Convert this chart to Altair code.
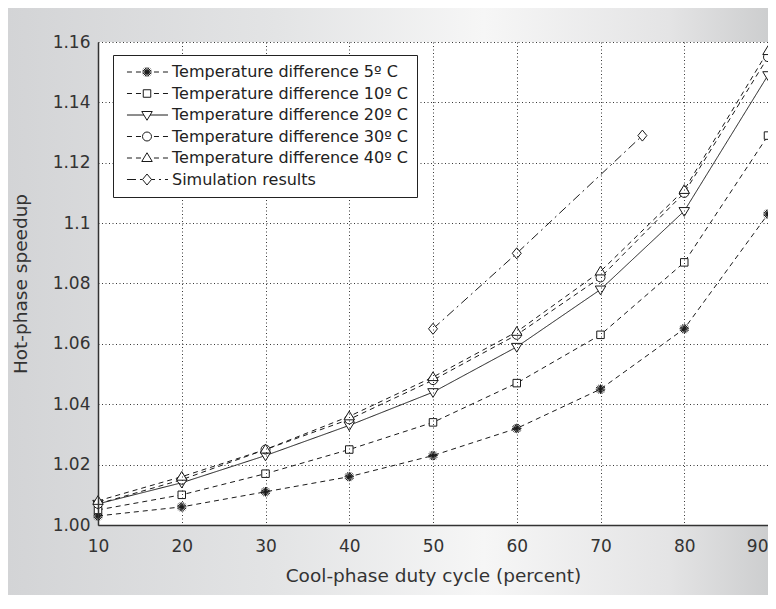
import altair as alt
import pandas as pd

# ---------------- data ----------------
series = [
    "Temperature difference 5º C",
    "Temperature difference 10º C",
    "Temperature difference 20º C",
    "Temperature difference 30º C",
    "Temperature difference 40º C",
    "Simulation results",
]
duty = [10, 20, 30, 40, 50, 60, 70, 80, 90]
t5 = [1.003, 1.006, 1.011, 1.016, 1.023, 1.032, 1.045, 1.065, 1.103]
t10 = [1.005, 1.010, 1.017, 1.025, 1.034, 1.047, 1.063, 1.087, 1.129]
t20 = [1.007, 1.014, 1.023, 1.033, 1.044, 1.059, 1.078, 1.104, 1.149]
t30 = [1.007, 1.015, 1.025, 1.035, 1.048, 1.063, 1.082, 1.110, 1.155]
t40 = [1.008, 1.016, 1.025, 1.036, 1.049, 1.064, 1.084, 1.111, 1.157]
sim_duty = [50, 60, 75]
sim = [1.065, 1.090, 1.129]
y_ticks = [1.00, 1.02, 1.04, 1.06, 1.08, 1.10, 1.12, 1.14, 1.16]

rows = []
for name, xs, ys in zip(series, [duty, duty, duty, duty, duty, sim_duty],
                        [t5, t10, t20, t30, t40, sim]):
    for xv, yv in zip(xs, ys):
        rows.append({"duty": xv, "speedup": yv, "series": name, "line_series": name})
df = pd.DataFrame(rows)

# ---------------- styling ----------------
W, H = 670, 483
PAD_L, PAD_T, PAD_R, PAD_B = 90, 34, 0, 70
FONT = "DejaVu Sans"
INK = "#1a1a1a"
LEG_X, LEG_Y = 15, 13

# plot markers (custom paths, size 100 -> 5 px per unit)
marker_paths = [
    "M-0.95,0L0.95,0M0,-0.95L0,0.95M-0.67,-0.67L0.67,0.67M-0.67,0.67L0.67,-0.67"
    "M-0.88,-0.36L0.88,0.36M-0.88,0.36L0.88,-0.36M-0.36,-0.88L0.36,0.88M0.36,-0.88L-0.36,0.88",
    "M-0.75,-0.75L0.75,-0.75L0.75,0.75L-0.75,0.75Z",
    "M-1.05,-0.7L1.05,-0.7L0,1.05Z",
    "M-0.9,0A0.9,0.9,0,1,0,0.9,0A0.9,0.9,0,1,0,-0.9,0Z",
    "M-1.05,0.7L1.05,0.7L0,-1.05Z",
    "M0,-1.1L0.9,0L0,1.1L-0.9,0Z",
]
dash_styles = [[5, 4], [5, 4], [1, 0], [5, 4], [5, 4], [9, 4, 2, 4]]

axis_style = dict(
    labelFont=FONT, labelFontSize=17, labelColor="#333",
    titleFont=FONT, titleFontSize=18.5, titleFontWeight="normal", titleColor="#333",
    ticks=False, tickSize=0,
    domainColor="#333", domainWidth=1.5,
    grid=True, gridColor="#222", gridDash=[1, 2.5], gridWidth=1, gridOpacity=0.9,
    zindex=1,
)

x_enc = alt.X(
    "duty:Q",
    scale=alt.Scale(domain=[10, 90], nice=False, zero=False),
    axis=alt.Axis(
        values=duty, title="Cool-phase duty cycle (percent)", labelFlush=False,
        labelAlign={"expr": "datum.value == 90 ? 'right' : 'center'"},
        labelPadding=13, titlePadding=12, **axis_style,
    ),
)
y_enc = alt.Y(
    "speedup:Q",
    scale=alt.Scale(domain=[1.0, 1.16], nice=False, zero=False),
    axis=alt.Axis(
        values=y_ticks, title="Hot-phase speedup",
        labelExpr="datum.value == 1 ? '1.00' : format(datum.value, '.3~g')",
        labelPadding=8, titlePadding=22, **axis_style,
    ),
)

bg = alt.Chart(alt.Data(values=[{}])).mark_rect(
    fill={
        "gradient": "linear", "x1": 0, "x2": 1, "y1": 0, "y2": 0,
        "stops": [
            {"offset": 0, "color": "#d3d4d6"},
            {"offset": 0.35, "color": "#e3e4e5"},
            {"offset": 0.62, "color": "#f6f6f6"},
            {"offset": 0.86, "color": "#e4e4e5"},
            {"offset": 1, "color": "#cbcccd"},
        ],
    },
    strokeOpacity=0,
).encode(
    x=alt.value(-PAD_L), x2=alt.value(W + 8),
    y=alt.value(-PAD_T), y2=alt.value(H + PAD_B),
)

plot_bg = alt.Chart(alt.Data(values=[{}])).mark_rect(
    fill="white", strokeOpacity=0
).encode(x=alt.value(0), x2=alt.value(W), y=alt.value(0), y2=alt.value(H))

# legend A: box + line samples (labels hidden, same layout as legend B)
lines = alt.Chart(df).mark_line(color=INK, strokeWidth=1).encode(
    x=x_enc, y=y_enc,
    strokeDash=alt.StrokeDash(
        "line_series:N", sort=series,
        scale=alt.Scale(range=dash_styles),
        legend=alt.Legend(
            title=None, orient="none", legendX=LEG_X, legendY=LEG_Y,
            padding=9, fillColor="white", strokeColor="#222",
            symbolType="M-2.67,0L2.8,0", symbolSize=225, symbolStrokeWidth=1,
            symbolStrokeColor=INK, symbolOffset=17,
            labelOffset=17, rowPadding=5.5,
            labelFont=FONT, labelFontSize=16, labelColor="#222", labelLimit=400,
            labelOpacity=0, zindex=2,
        ),
    ),
)

# legend B: markers + labels, drawn over legend A
points = alt.Chart(df).mark_point(
    filled=False, fill="white", stroke=INK, color=INK, strokeWidth=1, size=100, opacity=1
).encode(
    x=x_enc, y=y_enc,
    shape=alt.Shape(
        "series:N", sort=series,
        scale=alt.Scale(range=marker_paths),
        legend=alt.Legend(
            title=None, orient="none", legendX=LEG_X, legendY=LEG_Y,
            padding=9, symbolSize=100, symbolStrokeWidth=1, symbolOpacity=1,
            symbolOffset=17,
            labelOffset=17, rowPadding=5.5,
            labelFont=FONT, labelFontSize=16, labelColor="#222", labelLimit=400,
            zindex=3,
        ),
    ),
)

chart = alt.layer(bg, plot_bg, lines, points).properties(
    width=W, height=H,
    padding={"left": PAD_L, "top": PAD_T, "right": PAD_R, "bottom": PAD_B},
    autosize=alt.AutoSizeParams(type="none"),
).configure(font=FONT).configure_view(stroke="transparent")

chart.save("out.html", embed_options={"renderer": "svg", "actions": False})
